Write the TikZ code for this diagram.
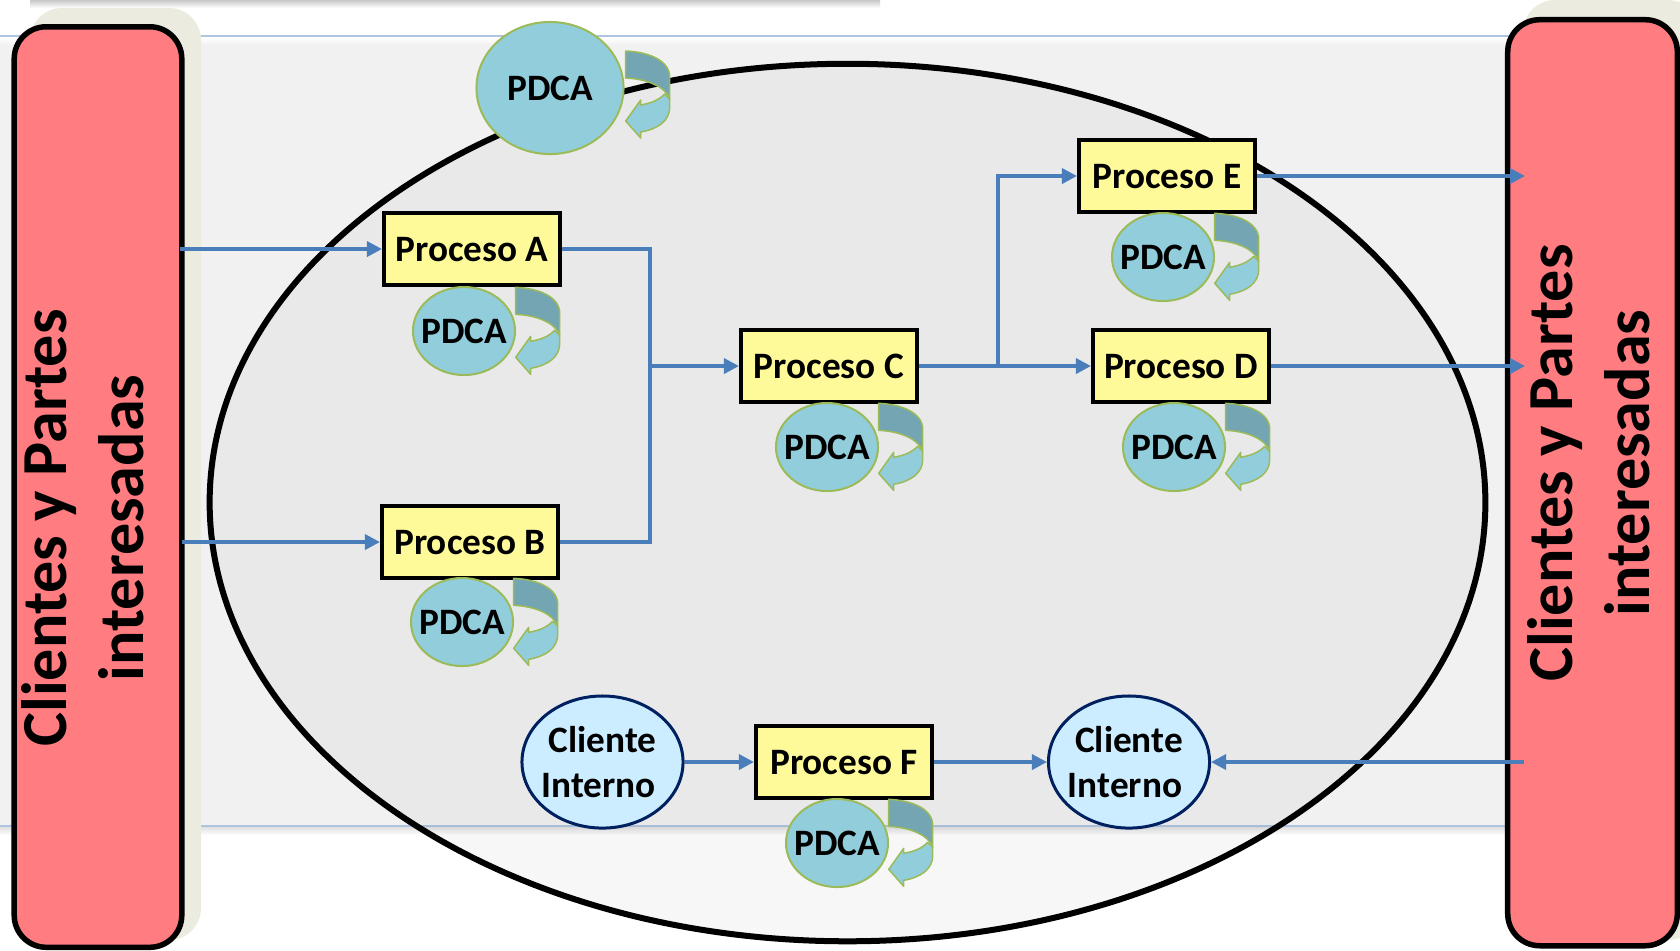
\documentclass[tikz,border=0pt]{standalone}
\usepackage{fontspec}
\setmainfont{Carlito}
\usepackage{tikz}
\usetikzlibrary{arrows.meta, shapes.geometric}
\definecolor{azulpdca}{HTML}{92CDDC}
\definecolor{oscuropdca}{HTML}{73A5B3}
\definecolor{verdepdca}{HTML}{9BBB59}
\definecolor{azulflecha}{HTML}{4A7EBB}
\definecolor{rojobarra}{HTML}{FF7C80}
\definecolor{beige}{HTML}{ECEBE0}
\definecolor{azulborde}{HTML}{AEC5DF}
\definecolor{fondo}{HTML}{F1F1F1}
\definecolor{celeste}{HTML}{CCECFF}
\definecolor{marino}{HTML}{002060}
\tikzset{proceso/.style = {rectangle,draw=black,fill=yellow!40!white,line width=0.04cm,minimum width=1.76cm,minimum height=0.72cm,inner sep=0mm,text height=7.2pt,font=\fontsize{10.6}{12.8}\selectfont\bfseries}}
\tikzset{pdca/.style = {ellipse,draw=verdepdca,fill=azulpdca,line width=0.02cm,minimum width=1.02cm,minimum height=0.88cm,inner sep=-0.12cm,text height=7.2pt,font=\fontsize{10.6}{12.8}\selectfont\bfseries}}
\tikzset{cliente/.style = {ellipse,draw=marino,fill=celeste,line width=0.03cm,minimum width=1.61cm,minimum height=1.32cm,inner sep=-0.1cm,align=center,font=\fontsize{10.6}{12.8}\selectfont\bfseries}}
\tikzset{barra/.style = {rectangle,rounded corners=0.32cm,draw=black,fill=rojobarra,line width=0.055cm}}
\tikzset{sombra/.style = {rectangle,rounded corners=0.32cm,fill=beige}}
\tikzset{textobarra/.style = {rotate=90,align=center,inner sep=0mm,font=\fontsize{18.25}{22}\selectfont\bfseries}}
\tikzset{flecha/.style = {draw=azulflecha,line width=0.035cm,-{Triangle[length=0.15cm,width=0.15cm]}}}
\tikzset{linea/.style = {draw=azulflecha,line width=0.035cm}}
\tikzset{flechapdca/.pic = {
    \draw [draw=verdepdca,fill=azulpdca,line width=0.015cm,line join=round] (39,43) .. controls (33,49) and (26,52) .. (15,54) -- (15,49) -- (0,70) -- (15,87) -- (15,81) .. controls (32,78) and (44,70) .. (44,56) -- (44,48) -- cycle;
    \draw [draw=verdepdca,fill=oscuropdca,line width=0.015cm,line join=round] (0,0) .. controls (24,1) and (44,10) .. (44,26) -- (44,48) .. controls (40,36) and (22,28) .. (0,27) -- cycle;
}}

\begin{document}
\begin{tikzpicture}[x=0.01cm,y=-0.01cm]
    \clip (0,0) rectangle (1680,950);
    \fill [white] (0,0) rectangle (1680,950);

    % banda de fondo
    \fill [fondo] (0,36) rectangle (1680,826);
    \shade [top color=white,bottom color=fondo] (0,37) rectangle (1680,45);
    \shade [top color=black!12,bottom color=white] (0,827) rectangle (1680,835);
    \draw [azulborde,line width=0.02cm] (0,36) -- (1680,36);
    \draw [azulborde,line width=0.02cm] (0,826) -- (1680,826);
    \shade [top color=black!22,bottom color=white] (30,0) rectangle (880,8);

    \node [ellipse,draw=black,fill=black,fill opacity=0.03,draw opacity=1,line width=0.06cm,minimum width=12.75cm,minimum height=8.77cm,inner sep=0mm] (organizacion) at (847.5,502.5) {};

    % barras de los lados
    \fill [sombra] (30,8) rectangle (201,940);
    \fill [sombra] (1523,0) rectangle (1700,940);
    \node [barra,minimum width=1.675cm,minimum height=9.20cm] (barraIzq) at (98,487) {};
    \node [barra,minimum width=1.695cm,minimum height=9.255cm] (barraDer) at (1592.5,482.7) {};
    \node [textobarra] (textoIzq) at (83,528) {Clientes y Partes\\interesadas};
    \node [textobarra] (textoDer) at (1589,463) {Clientes y Partes\\interesadas};

    % procesos
    \node [proceso] (A) at (472,249) {Proceso A};
    \node [proceso] (B) at (470,542) {Proceso B};
    \node [proceso] (C) at (829,366) {Proceso C};
    \node [proceso] (D) at (1181,366) {Proceso D};
    \node [proceso] (E) at (1167,176) {Proceso E};
    \node [proceso] (F) at (844,762) {Proceso F};

    \node [cliente] (clienteIzq) at (602.5,762) {Cliente\\Interno\rule{0.08cm}{0pt}};
    \node [cliente] (clienteDer) at (1129,762) {Cliente\\Interno\rule{0.08cm}{0pt}};

    % ciclos
    \node [pdca,minimum width=1.47cm,minimum height=1.32cm] (pdcaGeneral) at (550,88) {PDCA};
    \pic at (625.7,51) {flechapdca};
    \node [pdca] (pdcaA) at (464,331) {PDCA};
    \pic at (515.7,287.3) {flechapdca};
    \node [pdca] (pdcaB) at (462,622) {PDCA};
    \pic at (513.7,578.3) {flechapdca};
    \node [pdca] (pdcaC) at (827,447) {PDCA};
    \pic at (878.7,403.3) {flechapdca};
    \node [pdca] (pdcaD) at (1174,447) {PDCA};
    \pic at (1225.7,403.3) {flechapdca};
    \node [pdca] (pdcaE) at (1163,257) {PDCA};
    \pic at (1214.7,213.3) {flechapdca};
    \node [pdca] (pdcaF) at (837,843) {PDCA};
    \pic at (888.7,799.3) {flechapdca};

    % conexiones
    \coordinate (entradaA) at (180,249);
    \coordinate (entradaB) at (182,542);
    \coordinate (union) at (650,366);
    \coordinate (codoA) at (650,249);
    \coordinate (codoB) at (650,542);
    \coordinate (cruce) at (998,366);
    \coordinate (codoE) at (998,176);
    \coordinate (salidaE) at (1525,176);
    \coordinate (salidaD) at (1525,366);
    \coordinate (retorno) at (1524,762);

    \draw [flecha] (entradaA) -- (A);
    \draw [flecha] (entradaB) -- (B);
    \draw [linea] (A) -- (codoA) -- (codoB) -- (B);
    \draw [flecha] (union) -- (C);
    \draw [flecha] (C) -- (D);
    \draw [flecha] (cruce) -- (codoE) -- (E);
    \draw [flecha] (E) -- (salidaE);
    \draw [flecha] (D) -- (salidaD);
    \draw [flecha] (clienteIzq) -- (F);
    \draw [flecha] (F) -- (clienteDer);
    \draw [flecha] (retorno) -- (clienteDer);
\end{tikzpicture}
\end{document}
